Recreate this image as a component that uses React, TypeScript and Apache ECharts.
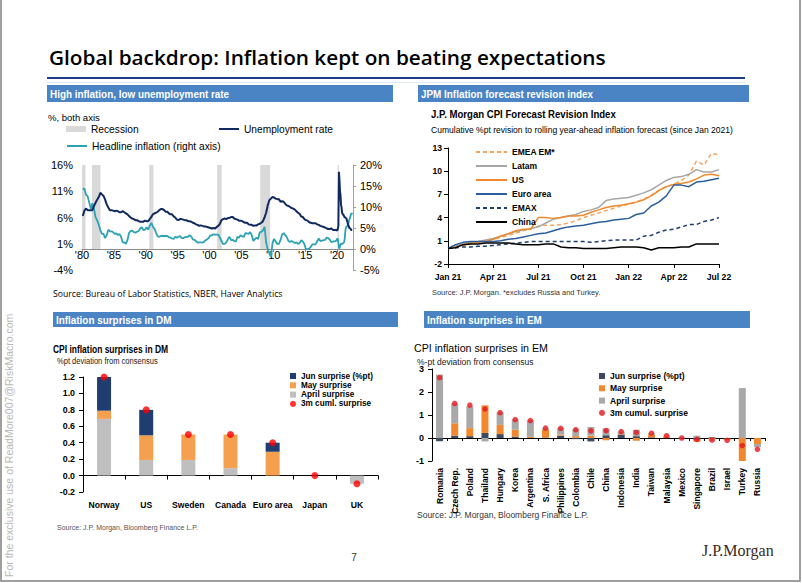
import React, { useEffect, useRef } from 'react';
import * as echarts from 'echarts';

// ---------- Chart 1: US unemployment & headline CPI ----------
const unempQuarterly = [
  6.3, 7.3, 7.7, 7.4, 7.4, 7.4, 7.4, 8.2, 8.8, 9.4, 9.9, 10.7, 10.4, 10.1, 9.4, 8.5,
  7.9, 7.4, 7.4, 7.3, 7.2, 7.3, 7.2, 7.0, 7.0, 7.2, 7.0, 6.8, 6.6, 6.3, 6.0, 5.8,
  5.7, 5.5, 5.5, 5.3, 5.2, 5.2, 5.2, 5.4, 5.3, 5.3, 5.7, 6.1, 6.6, 6.8, 6.9, 7.1,
  7.4, 7.6, 7.6, 7.4, 7.1, 7.1, 6.8, 6.6, 6.6, 6.2, 6.0, 5.6, 5.5, 5.7, 5.7, 5.6,
  5.5, 5.5, 5.3, 5.3, 5.2, 5.0, 4.9, 4.7, 4.6, 4.4, 4.5, 4.4, 4.3, 4.3, 4.2, 4.1,
  4.0, 3.9, 4.0, 3.9, 4.2, 4.4, 4.8, 5.5, 5.7, 5.8, 5.7, 5.9, 5.9, 6.1, 6.1, 5.8,
  5.7, 5.6, 5.4, 5.4, 5.3, 5.1, 5.0, 5.0, 4.7, 4.6, 4.6, 4.4, 4.5, 4.5, 4.7, 4.8,
  5.0, 5.3, 6.0, 6.9, 8.3, 9.3, 9.6, 9.9, 9.8, 9.6, 9.5, 9.5, 9.0, 9.1, 9.0, 8.6,
  8.3, 8.2, 8.0, 7.8, 7.7, 7.5, 7.2, 6.9, 6.7, 6.2, 6.1, 5.7, 5.5, 5.4, 5.1, 5.0,
  4.9, 4.9, 4.9, 4.7, 4.6, 4.4, 4.3, 4.2, 4.1, 3.9, 3.8, 3.8, 3.9, 3.6, 3.6, 3.6,
];
const unempMonthly2020 = [
  3.5, 3.5, 4.4, 14.7, 13.2, 11.0, 10.2, 8.4, 7.9, 6.9, 6.7, 6.7,
  6.4, 6.2, 6.0, 6.1, 5.8, 5.9, 5.4, 5.2, 4.7, 4.5, 4.2, 3.9,
  4.0, 3.8, 3.6, 3.6, 3.6, 3.6,
];
const cpiQuarterly = [
  14.2, 14.4, 12.9, 12.6, 11.1, 9.6, 10.9, 9.6, 7.6, 6.8, 5.8, 4.5, 3.6, 3.6, 2.6, 3.3,
  4.6, 4.2, 4.2, 4.0, 3.6, 3.7, 3.3, 3.6, 2.9, 1.6, 1.6, 1.2, 2.1, 3.8, 4.3, 4.4,
  4.0, 3.9, 4.1, 4.3, 4.9, 5.2, 4.5, 4.6, 5.2, 4.6, 5.6, 6.2, 5.3, 4.8, 3.8, 3.0,
  2.9, 3.1, 3.1, 3.1, 3.1, 3.1, 2.8, 2.7, 2.5, 2.4, 2.9, 2.7, 2.9, 3.1, 2.6, 2.6,
  2.8, 2.9, 2.9, 3.3, 3.0, 2.3, 2.2, 1.9, 1.5, 1.6, 1.6, 1.5, 1.7, 2.1, 2.3, 2.6,
  3.2, 3.3, 3.5, 3.4, 3.4, 3.4, 2.7, 1.9, 1.2, 1.2, 1.6, 2.3, 2.9, 2.1, 2.2, 1.9,
  1.8, 2.9, 2.7, 3.3, 3.0, 2.9, 3.8, 3.7, 3.6, 4.0, 3.3, 1.9, 2.4, 2.7, 2.4, 4.0,
  4.1, 4.4, 5.3, 1.6, -0.1, -1.0, -1.9, 1.4, 2.4, 1.8, 1.2, 1.2, 2.1, 3.4, 3.8, 3.3,
  2.8, 1.9, 1.7, 1.9, 1.7, 1.4, 1.6, 1.2, 1.4, 2.1, 1.8, 1.2, -0.1, 0.0, 0.1, 0.5,
  1.1, 1.1, 1.1, 1.8, 2.5, 1.9, 2.0, 2.1, 2.2, 2.7, 2.6, 2.2, 1.6, 1.8, 1.8, 2.0,
];
const cpiMonthly2020 = [
  2.5, 2.3, 1.5, 0.3, 0.1, 0.6, 1.0, 1.3, 1.4, 1.2, 1.2, 1.4,
  1.4, 1.7, 2.6, 4.2, 5.0, 5.4, 5.4, 5.3, 5.4, 6.2, 6.8, 7.0,
  7.5, 7.9, 8.5, 8.3, 8.6, 8.6,
];
const recessions = [
  [1980.0, 1980.55], [1981.55, 1982.9], [1990.55, 1991.2],
  [2001.2, 2001.9], [2007.95, 2009.5], [2020.1, 2020.3],
];
const yearTicks = [1980, 1985, 1990, 1995, 2000, 2005, 2010, 2015, 2020];
const leftTicks = [-4, 1, 6, 11, 16];

// ---------- Chart 2: JPM CPI forecast revision index ----------
const revTickLabels = ['Jan 21', 'Apr 21', 'Jul 21', 'Oct 21', 'Jan 22', 'Apr 22', 'Jul 22'];
const revYTicks = [-2, 1, 4, 7, 10, 13];
const emeaEm = [0, 0.2, 0.4, 0.6, 0.8, 1.0, 1.2, 1.4, 1.7, 2.0, 2.3, 2.6, 2.9, 3.0, 3.0, 3.1, 3.3, 3.6, 4.0, 4.3, 4.6, 4.9, 5.2, 5.5, 5.7, 6.0, 6.4, 6.9, 7.5, 8.0, 8.3, 8.8, 9.5, 11.3, 10.8, 12.3, 12.1];
const latam = [0, 0.3, 0.6, 0.8, 0.9, 1.1, 1.3, 1.6, 1.9, 2.2, 2.4, 2.6, 2.8, 3.3, 3.8, 4.0, 4.2, 4.4, 4.8, 5.0, 5.3, 6.2, 6.4, 6.5, 6.6, 6.9, 7.2, 7.6, 8.2, 8.8, 9.2, 9.3, 9.6, 10.2, 9.9, 9.9, 10.2];
const usRev = [0, 0.2, 0.5, 0.7, 0.8, 0.9, 1.2, 1.6, 1.9, 2.3, 2.5, 2.5, 4.0, 4.0, 3.9, 4.0, 4.2, 4.2, 4.3, 4.7, 5.0, 5.3, 5.5, 5.6, 5.8, 6.0, 6.3, 6.8, 7.5, 8.0, 8.3, 8.4, 8.6, 9.0, 9.5, 9.6, 9.4];
const euroArea = [0, 0.5, 0.8, 0.9, 0.9, 0.9, 0.9, 1.0, 1.2, 1.3, 1.5, 1.7, 1.9, 2.0, 2.3, 2.6, 2.8, 2.9, 3.0, 3.2, 3.4, 3.5, 3.7, 3.8, 3.9, 4.4, 4.6, 5.5, 6.0, 6.8, 8.2, 8.2, 8.0, 8.6, 8.7, 8.9, 9.1];
const emax = [0, 0.1, 0.2, 0.2, 0.3, 0.3, 0.4, 0.5, 0.6, 0.7, 0.8, 0.9, 0.9, 0.9, 0.9, 0.9, 0.9, 0.9, 0.9, 0.8, 0.9, 1.0, 1.1, 1.1, 1.1, 1.1, 1.6, 1.7, 2.1, 2.4, 2.5, 2.8, 3.1, 3.1, 3.5, 3.7, 4.0];
const china = [0, 0.1, 0.5, 0.6, 0.6, 0.7, 0.7, 0.7, 0.7, 0.6, 0.5, 0.5, 0.5, 0.6, 0.6, 0.2, 0.1, 0.1, 0.0, 0.0, 0.0, 0.0, 0.1, 0.2, 0.2, 0.2, 0.1, -0.2, 0.1, 0.1, 0.1, 0.2, 0.2, 0.6, 0.6, 0.6, 0.6];

// ---------- Chart 3: DM surprises ----------
const dmCats = ['Norway', 'US', 'Sweden', 'Canada', 'Euro area', 'Japan', 'UK'];
const dmApril = [0.69, 0.19, 0.19, 0.09, 0, 0, -0.1];
const dmMay = [0.1, 0.3, 0.31, 0.41, 0.29, 0, 0];
const dmJun = [0.41, 0.31, 0, 0, 0.11, 0, 0];
const dmCum = [1.2, 0.8, 0.5, 0.5, 0.4, 0, -0.1];

// ---------- Chart 4: EM surprises ----------
const emCats = ['Romania', 'Czech Rep.', 'Poland', 'Thailand', 'Hungary', 'Korea', 'Argentina', 'S. Africa', 'Philippines', 'Colombia', 'Chile', 'China', 'Indonesia', 'India', 'Taiwan', 'Malaysia', 'Mexico', 'Singapore', 'Brazil', 'Israel', 'Turkey', 'Russia'];
const emJun = [-0.14, 0.1, 0.08, 0.22, 0.17, 0.06, 0, 0.02, 0.1, -0.05, -0.15, 0.12, 0.15, 0.08, 0.03, 0, -0.03, -0.08, 0.03, -0.04, 0, 0];
const emMay = [0, 0.54, 0.35, 1.2, 0.4, 0.3, 0.05, 0.33, 0.05, 0.08, 0.1, -0.1, 0.03, -0.12, 0.12, 0.06, 0, -0.08, -0.06, -0.05, -1.0, -0.26];
const emApril = [2.76, 0.86, 0.95, -0.15, 0.54, 0.45, 0.72, 0.07, 0.27, 0.3, 0.38, 0.3, 0.1, 0.28, 0.06, 0.04, 0.03, 0.1, -0.06, 0, 2.17, -0.14];
const emCum = [2.62, 1.5, 1.43, 1.26, 1.1, 0.8, 0.76, 0.43, 0.42, 0.36, 0.31, 0.32, 0.28, 0.24, 0.21, 0.1, 0.0, -0.06, -0.09, -0.1, -0.33, -0.49];

const ARIAL = '"Liberation Sans",Arial,sans-serif';
const HEADER = '#4a84c4';

function buildOption() {
  const unempData = [
    ...unempQuarterly.map((v, i) => [1980 + i * 0.25 + 0.125, v]),
    ...unempMonthly2020.map((v, i) => [2020 + i / 12 + 1 / 24, v]),
  ];
  const cpiData = [
    ...cpiQuarterly.map((v, i) => [1980 + i * 0.25 + 0.125, v]),
    ...cpiMonthly2020.map((v, i) => [2020 + i / 12 + 1 / 24, v]),
  ];
  const revPairs = (arr: number[]) => arr.map((v, i) => [i * 0.5, v]);

  const text = (x: number, y: number, t: string, o: any = {}, sx = 1) => ({
    type: 'text', x, y, scaleX: sx, silent: true,
    style: { text: t, fill: '#000', fontSize: 10, fontFamily: ARIAL, verticalAlign: 'middle', align: 'left', ...o },
  });
  const header = (x: number, y: number, w: number, h: number, t: string) => [
    { type: 'rect', shape: { x, y, width: w, height: h }, style: { fill: HEADER }, silent: true },
    text(x + 3, y + h / 2 + 0.5, t, { fill: '#fff', fontWeight: 'bold', fontSize: 11 }, 0.9),
  ];

  const graphic: any[] = [
    { type: 'rect', shape: { x: 1, y: -2, width: 799, height: 583 }, style: { fill: 'none', stroke: '#808080', lineWidth: 1.5 }, silent: true },
    { type: 'text', x: 9, y: 577, rotation: Math.PI / 2, silent: true, style: { text: 'For the exclusive use of ReadMore007@RiskMacro.com', fill: '#b8b8b8', fontSize: 10.5, fontFamily: ARIAL, verticalAlign: 'middle', align: 'left' } },
    text(49, 57, 'Global backdrop: Inflation kept on beating expectations', { fontSize: 19.5, fontFamily: '"Open Sans",sans-serif', fontWeight: 600 }, 1.065),
    { type: 'line', shape: { x1: 47, y1: 78, x2: 745, y2: 78 }, style: { stroke: '#1f3a8a', lineWidth: 2 }, silent: true },
    { type: 'line', shape: { x1: 47, y1: 82.5, x2: 745, y2: 82.5 }, style: { stroke: '#dfe8f3', lineWidth: 1 }, silent: true },
    ...header(47, 85, 346, 17, 'High inflation, low unemployment rate'),
    ...header(418, 85, 331, 17, 'JPM Inflation forecast revision index'),
    ...header(53, 312, 345, 15, 'Inflation surprises in DM'),
    ...header(424, 311, 326, 17, 'Inflation surprises in EM'),
    text(48, 117, '%, both axis', { fontSize: 9.5 }),
    text(53, 294, 'Source: Bureau of Labor Statistics, NBER, Haver Analytics', { fontSize: 8.7, fontFamily: '"Open Sans",sans-serif' }),
    text(431, 114, 'J.P. Morgan CPI Forecast Revision Index', { fontSize: 11, fontWeight: 'bold' }, 0.873),
    text(431, 130, 'Cumulative %pt revision to rolling year-ahead inflation forecast (since Jan 2021)', { fontSize: 9 }, 0.95),
    text(432, 292, 'Source: J.P. Morgan. *excludes Russia and Turkey.', { fontSize: 8, fill: '#333' }, 0.93),
    text(53, 349, 'CPI inflation surprises in DM', { fontSize: 11, fontWeight: 'bold' }, 0.77),
    text(57, 361, '%pt deviation from consensus', { fontSize: 9, fill: '#222' }, 0.84),
    text(57, 527, 'Source: J.P. Morgan, Bloomberg Finance L.P.', { fontSize: 7, fill: '#555' }),
    text(414, 348, 'CPI inflation surprises in EM', { fontSize: 11 }, 0.97),
    text(417, 361.5, '%-pt deviation from consensus', { fontSize: 9.5, fill: '#222' }, 0.9),
    text(417, 515, 'Source: J.P. Morgan, Bloomberg Finance L.P.', { fontSize: 8.5, fill: '#333' }),
    text(354, 557, '7', { fontSize: 10, fill: '#333', align: 'center' }),
    text(702, 550, 'J.P.Morgan', { fontSize: 16, fontFamily: '"Liberation Serif","DejaVu Serif",serif', fill: '#3a2a1e' }),
  ];

  const legendBase = { padding: 0, selectedMode: false, itemGap: 0 };
  const hideSym = { itemStyle: { opacity: 0 } };

  return {
    animation: false,
    backgroundColor: '#fff',
    graphic,
    grid: [
      { left: 82, top: 165, width: 271, height: 105 },
      { left: 448, top: 148, width: 271, height: 116 },
      { left: 83, top: 377, width: 295, height: 115 },
      { left: 432, top: 369, width: 333, height: 92 },
    ],
    legend: [
      { ...legendBase, left: 66, top: 124, data: [{ name: 'Recession', icon: 'rect' }], itemWidth: 20, itemHeight: 6, textStyle: { fontSize: 10.2, fontFamily: ARIAL, color: '#000' } },
      { ...legendBase, left: 218, top: 124, data: [{ name: 'Unemployment rate', ...hideSym }], itemWidth: 20, itemHeight: 10, textStyle: { fontSize: 10.2, fontFamily: ARIAL, color: '#000' } },
      { ...legendBase, left: 66, top: 141, data: [{ name: 'Headline inflation (right axis)', ...hideSym }], itemWidth: 20, itemHeight: 10, textStyle: { fontSize: 10.2, fontFamily: ARIAL, color: '#000' } },
      {
        ...legendBase, left: 475, top: 146, orient: 'vertical', itemGap: 2,
        data: ['EMEA EM*', 'Latam', 'US', 'Euro area', 'EMAX', 'China'].map((n) => ({ name: n, ...hideSym })),
        itemWidth: 31, itemHeight: 12, textStyle: { fontSize: 8.5, fontWeight: 'bold', fontFamily: ARIAL, color: '#000', lineHeight: 12 },
      },
      { ...legendBase, left: 290, top: 372, orient: 'vertical', itemGap: 1.3, data: [{ name: 'Jun surprise (%pt)', icon: 'rect' }, { name: 'May surprise', icon: 'rect' }, { name: 'April surprise', icon: 'rect' }, { name: '3m cuml. surprise', icon: 'circle' }], itemWidth: 6, itemHeight: 6, textStyle: { fontSize: 8.2, fontWeight: 'bold', fontFamily: ARIAL, color: '#000', lineHeight: 8 } },
      { ...legendBase, left: 599, top: 371, orient: 'vertical', itemGap: 2.3, formatter: (n: string) => n.replace('EM|', ''), data: [{ name: 'EM|Jun surprise (%pt)', icon: 'rect' }, { name: 'EM|May surprise', icon: 'rect' }, { name: 'EM|April surprise', icon: 'rect' }, { name: '3m cumul. surprise', icon: 'circle' }], itemWidth: 6, itemHeight: 6, textStyle: { fontSize: 8.5, fontWeight: 'bold', fontFamily: ARIAL, color: '#000', lineHeight: 10 } },
    ],
    xAxis: [
      {
        type: 'value', gridIndex: 0, min: 1980, max: 2022.5, interval: 5,
        axisLine: { onZero: true, onZeroAxisIndex: 1, lineStyle: { color: '#8c8c8c' } },
        axisTick: { show: true, length: 3, customValues: yearTicks, lineStyle: { color: '#8c8c8c' } },
        axisLabel: { customValues: yearTicks, formatter: (v: number) => "'" + String(v).slice(2), fontSize: 11, fontFamily: ARIAL, color: '#000', margin: -21 },
        splitLine: { show: false },
      },
      {
        type: 'value', gridIndex: 1, min: 0, max: 18, interval: 3,
        axisLine: { onZero: false, lineStyle: { color: '#000' } },
        axisTick: { show: true, length: 4, lineStyle: { color: '#000' } },
        axisLabel: { formatter: (v: number) => revTickLabels[Math.round(v / 3)] || '', fontSize: 8.6, fontWeight: 'bold', fontFamily: ARIAL, color: '#000', margin: 8.5 },
        splitLine: { show: false },
      },
      {
        type: 'category', gridIndex: 2, data: dmCats,
        axisLine: { onZero: true, lineStyle: { color: '#000' } },
        axisTick: { show: true, length: 4, lineStyle: { color: '#000' } },
        axisLabel: { interval: 0, fontSize: 8.6, fontWeight: 'bold', fontFamily: ARIAL, color: '#000', margin: 8.5 },
      },
      {
        type: 'category', gridIndex: 3, data: emCats,
        axisLine: { onZero: true, lineStyle: { color: '#000' } },
        axisTick: { show: true, length: 3, lineStyle: { color: '#000' } },
        axisLabel: { interval: 0, rotate: 90, fontSize: 8.5, fontWeight: 'bold', fontFamily: ARIAL, color: '#000', margin: 7 },
      },
    ],
    yAxis: [
      {
        type: 'value', gridIndex: 0, min: -4, max: 16,
        axisLine: { show: false }, axisTick: { show: false }, splitLine: { show: false },
        axisLabel: { customValues: leftTicks, formatter: (v: number) => v + '%', fontSize: 11, fontFamily: ARIAL, color: '#000', margin: 9 },
      },
      {
        type: 'value', gridIndex: 0, position: 'right', min: -5, max: 20, interval: 5,
        axisLine: { show: true, lineStyle: { color: '#a0a0a0' } },
        axisTick: { show: true, length: 3, lineStyle: { color: '#a0a0a0' } },
        splitLine: { show: false },
        axisLabel: { formatter: (v: number) => v + '%', fontSize: 11, fontFamily: ARIAL, color: '#000', margin: 7 },
      },
      {
        type: 'value', gridIndex: 1, min: -2, max: 13,
        axisLine: { show: true, lineStyle: { color: '#000' } },
        axisTick: { show: true, length: 4, customValues: revYTicks, lineStyle: { color: '#000' } },
        splitLine: { show: false },
        axisLabel: { customValues: revYTicks, fontSize: 8.6, fontWeight: 'bold', fontFamily: ARIAL, color: '#000', margin: 6 },
      },
      {
        type: 'value', gridIndex: 2, min: -0.2, max: 1.2, interval: 0.2,
        axisLine: { show: true, lineStyle: { color: '#000' } },
        axisTick: { show: true, length: 4, lineStyle: { color: '#000' } },
        splitLine: { show: false },
        axisLabel: { formatter: (v: number) => v.toFixed(1), fontSize: 8.8, fontWeight: 'bold', fontFamily: ARIAL, color: '#000', margin: 8 },
      },
      {
        type: 'value', gridIndex: 3, min: -1, max: 3, interval: 1,
        axisLine: { show: true, lineStyle: { color: '#000' } },
        axisTick: { show: true, length: 4, lineStyle: { color: '#000' } },
        splitLine: { show: false },
        axisLabel: { fontSize: 9, fontWeight: 'bold', fontFamily: ARIAL, color: '#000', margin: 8 },
      },
    ],
    series: [
      {
        name: 'Recession', type: 'custom', xAxisIndex: 0, yAxisIndex: 1, data: recessions, z: 1,
        itemStyle: { color: '#d9d9d9' }, silent: true,
        renderItem: (_p: any, api: any) => {
          const p0 = api.coord([api.value(0), 20]);
          const p1 = api.coord([api.value(1), 0]);
          return { type: 'rect', shape: { x: p0[0], y: p0[1], width: p1[0] - p0[0], height: p1[1] - p0[1] }, style: { fill: '#d9d9d9' } };
        },
      },
      { name: 'Unemployment rate', type: 'line', xAxisIndex: 0, yAxisIndex: 0, data: unempData, symbol: 'none', z: 3, lineStyle: { color: '#10295f', width: 2 }, itemStyle: { color: '#10295f' } },
      { name: 'Headline inflation (right axis)', type: 'line', xAxisIndex: 0, yAxisIndex: 1, data: cpiData, symbol: 'none', z: 2, lineStyle: { color: '#2ba3b3', width: 1.8 }, itemStyle: { color: '#2ba3b3' } },

      { name: 'EMEA EM*', type: 'line', xAxisIndex: 1, yAxisIndex: 2, data: revPairs(emeaEm), symbol: 'none', lineStyle: { color: '#f4a45e', width: 1.5, type: [4, 3] }, itemStyle: { color: '#f4a45e' } },
      { name: 'Latam', type: 'line', xAxisIndex: 1, yAxisIndex: 2, data: revPairs(latam), symbol: 'none', lineStyle: { color: '#a6a6a6', width: 1.5 }, itemStyle: { color: '#a6a6a6' } },
      { name: 'US', type: 'line', xAxisIndex: 1, yAxisIndex: 2, data: revPairs(usRev), symbol: 'none', lineStyle: { color: '#f08a2c', width: 1.5 }, itemStyle: { color: '#f08a2c' } },
      { name: 'Euro area', type: 'line', xAxisIndex: 1, yAxisIndex: 2, data: revPairs(euroArea), symbol: 'none', lineStyle: { color: '#2a5e9e', width: 1.5 }, itemStyle: { color: '#2a5e9e' } },
      { name: 'EMAX', type: 'line', xAxisIndex: 1, yAxisIndex: 2, data: revPairs(emax), symbol: 'none', lineStyle: { color: '#1f3d70', width: 1.5, type: [4, 3] }, itemStyle: { color: '#1f3d70' } },
      { name: 'China', type: 'line', xAxisIndex: 1, yAxisIndex: 2, data: revPairs(china), symbol: 'none', lineStyle: { color: '#000', width: 1.5 }, itemStyle: { color: '#000' } },

      { name: 'April surprise', type: 'bar', stack: 'dm', xAxisIndex: 2, yAxisIndex: 3, data: dmApril, barWidth: 14, itemStyle: { color: '#bfbfbf' } },
      { name: 'May surprise', type: 'bar', stack: 'dm', xAxisIndex: 2, yAxisIndex: 3, data: dmMay, barWidth: 14, itemStyle: { color: '#f5a04f' } },
      { name: 'Jun surprise (%pt)', type: 'bar', stack: 'dm', xAxisIndex: 2, yAxisIndex: 3, data: dmJun, barWidth: 14, itemStyle: { color: '#1f3d70' } },
      { name: '3m cuml. surprise', type: 'scatter', xAxisIndex: 2, yAxisIndex: 3, data: dmCum, symbolSize: 7, z: 5, itemStyle: { color: '#ff0000' } },

      { name: 'EM|Jun surprise (%pt)', type: 'bar', stack: 'em', xAxisIndex: 3, yAxisIndex: 4, data: emJun, barWidth: 7, itemStyle: { color: '#3e4b5e' } },
      { name: 'EM|May surprise', type: 'bar', stack: 'em', xAxisIndex: 3, yAxisIndex: 4, data: emMay, barWidth: 7, itemStyle: { color: '#f2882d' } },
      { name: 'EM|April surprise', type: 'bar', stack: 'em', xAxisIndex: 3, yAxisIndex: 4, data: emApril, barWidth: 7, itemStyle: { color: '#a9a9a9' } },
      { name: '3m cumul. surprise', type: 'scatter', xAxisIndex: 3, yAxisIndex: 4, data: emCum, symbolSize: 5.5, z: 5, itemStyle: { color: '#e8141b' } },
    ],
  };
}

export default function App() {
  const ref = useRef<HTMLDivElement>(null);
  useEffect(() => {
    if (!ref.current) return;
    const chart = echarts.init(ref.current, null, { renderer: 'svg' });
    chart.setOption(buildOption() as any);
    return () => chart.dispose();
  }, []);
  return <div ref={ref} style={{ position: 'absolute', left: 0, top: 0, width: 802, height: 583, background: '#fff' }} />;
}
